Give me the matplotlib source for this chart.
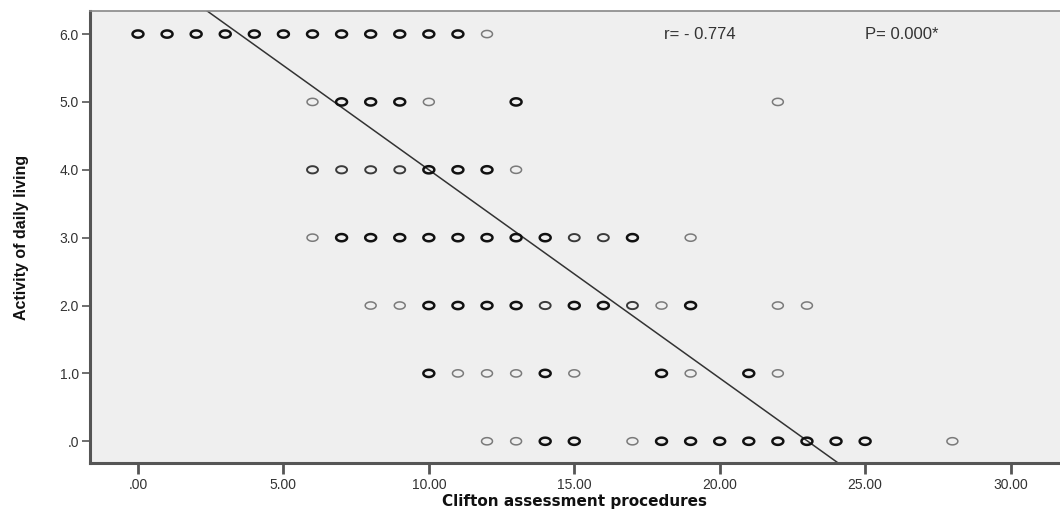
import numpy as np
import matplotlib
matplotlib.use("Agg")
import matplotlib.pyplot as plt
from matplotlib.path import Path

# cases drawn dark (several overlapping), mid, and light (single)
dark_x = [0, 1, 2, 3, 4, 5, 6, 7, 8, 9, 10, 11,
          7, 8, 9, 13,
          10, 11, 12,
          7, 8, 9, 10, 11, 12, 13, 14, 17,
          10, 11, 12, 13, 15, 16, 19,
          10, 14, 18, 21,
          14, 15, 18, 19, 20, 21, 22, 23, 24, 25]
dark_y = [6] * 12 + [5] * 4 + [4] * 3 + [3] * 9 + [2] * 7 + [1] * 4 + [0] * 10

mid_x = [6, 7, 8, 9,
         15, 16,
         14, 17]
mid_y = [4] * 4 + [3] * 2 + [2] * 2

light_x = [12,
           6, 10, 22,
           13,
           6, 19,
           8, 9, 18, 22, 23,
           11, 12, 13, 15, 19, 22,
           12, 13, 17, 28]
light_y = [6] + [5] * 3 + [4] + [3] * 2 + [2] * 5 + [1] * 6 + [0] * 4

fit_intercept = 7.07
fit_slope = -0.307

x_ticks = [0, 5, 10, 15, 20, 25, 30]
x_labels = [".00", "5.00", "10.00", "15.00", "20.00", "25.00", "30.00"]
y_ticks = [0, 1, 2, 3, 4, 5, 6]
y_labels = [".0", "1.0", "2.0", "3.0", "4.0", "5.0", "6.0"]

plt.rcParams['font.family'] = ['Liberation Sans', 'DejaVu Sans']

t = np.linspace(0, 2 * np.pi, 40)
ell = Path(np.column_stack([np.cos(t), 0.66 * np.sin(t)]), closed=True)

fig = plt.figure(figsize=(10.6, 5.13), dpi=100)
ax = fig.add_axes([0.0849, 0.0975, 0.9151, 0.8811])
ax.set_facecolor("#efefef")

ax.scatter(light_x, light_y, marker=ell, s=62, facecolors="none",
           edgecolors="#7a7a7a", linewidths=1.1, zorder=3)
ax.scatter(mid_x, mid_y, marker=ell, s=62, facecolors="none",
           edgecolors="#3a3a3a", linewidths=1.4, zorder=3)
ax.scatter(dark_x, dark_y, marker=ell, s=62, facecolors="none",
           edgecolors="#111111", linewidths=1.8, zorder=3)

ax.set_xlim(-1.65, 31.7)
ax.set_ylim(-0.32, 6.34)
xs = np.array(ax.get_xlim())
ax.plot(xs, fit_intercept + fit_slope * xs, color="#333333", lw=1.1, zorder=2)

ax.set_xticks(x_ticks)
ax.set_xticklabels(x_labels, fontsize=10, color="#333333")
ax.set_yticks(y_ticks)
ax.set_yticklabels(y_labels, fontsize=10, color="#333333")
ax.tick_params(axis="x", direction="out", length=8, width=2, color="#555555", pad=3)
ax.tick_params(axis="y", direction="out", length=6, width=1.2, color="#555555", pad=2)

for side in ["left", "bottom"]:
    ax.spines[side].set_linewidth(2.2)
    ax.spines[side].set_color("#555555")
ax.spines["top"].set_linewidth(1.2)
ax.spines["top"].set_color("#888888")
ax.spines["right"].set_visible(False)

ax.set_xlabel("Clifton assessment procedures", fontsize=11, fontweight="bold",
              family=["DejaVu Sans"], color="#111111", labelpad=1)
ax.set_ylabel("Activity of daily living", fontsize=11.5, fontweight="bold",
              family=["Liberation Sans Narrow", "Liberation Sans"], color="#111111",
              labelpad=22)

ax.text(18.1, 6.0, "r= - 0.774", fontsize=12, color="#333333", va="center")
ax.text(25.0, 6.0, "P= 0.000*", fontsize=12, color="#333333", va="center")

fig.savefig("out.png", dpi=100)
